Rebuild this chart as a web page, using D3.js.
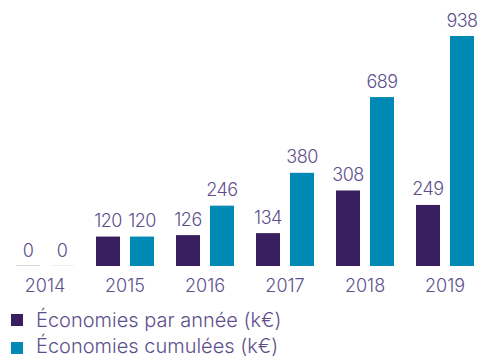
<!DOCTYPE html>
<html>
<head>
<meta charset="utf-8">
<script src="https://cdn.jsdelivr.net/npm/d3@7"></script>
<style>
  html, body { margin: 0; padding: 0; background: #fff; }
  svg { display: block; font-family: Inter, "Open Sans", sans-serif; }
</style>
</head>
<body>
<svg id="chart" width="484" height="358"></svg>
<script>
// Savings per year and cumulative savings, in k€
const years = ["2014", "2015", "2016", "2017", "2018", "2019"];
const perYear = [0, 120, 126, 134, 308, 249];
const cumulated = [0, 120, 246, 380, 689, 938];
const seriesNames = ["Économies par année (k€)", "Économies cumulées (k€)"];
const seriesColors = ["#391f60", "#0089b4"];
const zeroColors = ["#d6d3de", "#eef0f3"];
const textColor = "#5e4f8c";

const svg = d3.select("#chart");
const baseline = 266;

// one 80px slot per year, two bars inside each slot
const x = d3.scaleBand().domain(years).range([2, 482]);
const xs = d3.scaleBand().domain([0, 1]).range([14, 72]).paddingInner(10 / 34).paddingOuter(0);
const y = d3.scaleLinear().domain([0, 938]).range([baseline, 36]);

const series = [perYear, cumulated];

const groups = svg.selectAll("g.year")
  .data(years)
  .join("g")
  .attr("class", "year")
  .attr("transform", d => `translate(${x(d)},0)`);

series.forEach((vals, si) => {
  groups.append("rect")
    .attr("x", xs(si))
    .attr("width", xs.bandwidth())
    .attr("y", (d, i) => vals[i] === 0 ? baseline - 1 : y(vals[i]))
    .attr("height", (d, i) => vals[i] === 0 ? 1 : baseline - y(vals[i]))
    .attr("fill", (d, i) => vals[i] === 0 ? zeroColors[si] : seriesColors[si]);

  groups.append("text")
    .attr("x", xs(si) + xs.bandwidth() / 2)
    .attr("y", (d, i) => y(vals[i]) - 9.5)
    .attr("text-anchor", "middle")
    .attr("font-size", 18)
    .attr("font-weight", 300)
    .attr("letter-spacing", -0.5)
    .attr("fill", textColor)
    .text((d, i) => vals[i]);
});

// Year labels centred under each pair
const groupCenter = (xs(0) + xs(1) + xs.bandwidth()) / 2;
const xAxis = d3.axisBottom(x).tickSize(0).tickPadding(0)
  .offset(0);
const axisG = svg.append("g")
  .attr("transform", `translate(${groupCenter - x.bandwidth() / 2},${baseline + 26})`)
  .call(xAxis);
axisG.select(".domain").remove();
axisG.selectAll("text")
  .attr("font-size", 18)
  .attr("font-weight", 300)
  .attr("font-family", "Inter, 'Open Sans', sans-serif")
  .attr("fill", textColor)
  .attr("dy", 0);

// Legend
const legend = svg.selectAll("g.legend")
  .data(seriesNames)
  .join("g")
  .attr("class", "legend")
  .attr("transform", (d, i) => `translate(11,${314 + i * 28})`);
legend.append("rect").attr("width", 12).attr("height", 12)
  .attr("fill", (d, i) => seriesColors[i]);
legend.append("text")
  .attr("x", 25).attr("y", (d, i) => 13 - i * 2)
  .attr("font-size", 20).attr("font-weight", 300)
  .attr("fill", textColor)
  .text(d => d);
</script>
</body>
</html>
